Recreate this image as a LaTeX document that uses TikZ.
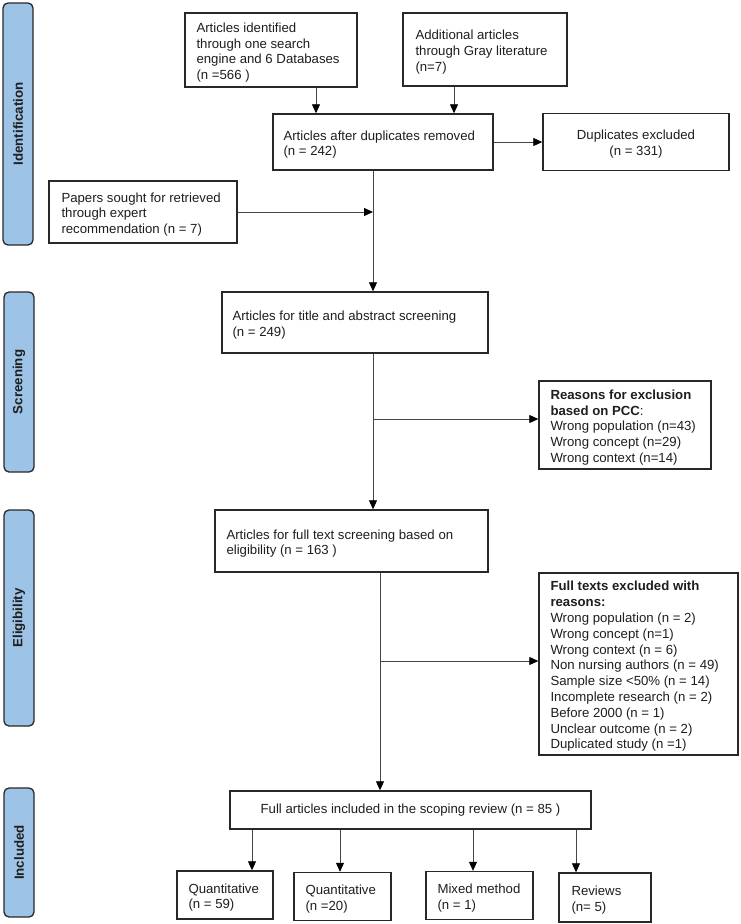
\documentclass[tikz,border=0pt]{standalone}
\usepackage{fontspec}
\setmainfont{Liberation Sans}
\usetikzlibrary{arrows.meta}
\definecolor{barblue}{RGB}{157,195,230}
\definecolor{edgec}{RGB}{40,40,40}
\definecolor{lineg}{RGB}{70,70,70}
\definecolor{txtc}{RGB}{30,30,30}
\begin{document}
\begin{tikzpicture}[x=1pt,y=-1pt,
  box/.style={draw=edgec, line width=1.4pt, fill=white, inner sep=0pt},
  txt/.style={align=left, inner sep=0pt, yshift=-2.5pt, font=\fontsize{13.2}{15.8}\selectfont, text=txtc},
  ctxt/.style={align=center, inner sep=0pt, font=\fontsize{13.2}{15.8}\selectfont, text=txtc},
  side/.style={draw=edgec, line width=1.3pt, fill=barblue, rounded corners=5pt, rotate=90,
    font=\bfseries\fontsize{13.3}{15}\selectfont, text=txtc, inner sep=0pt, minimum height=30pt},
  arr/.style={draw=lineg, line width=0.8pt, -{Triangle[length=9pt,width=8pt,fill=black,color=black]}}]

\fill[white] (0,0) rectangle (741,924);
\useasboundingbox (0,0) rectangle (741,924);

% side bars
\node[side, minimum width=242pt] (sid) at (18,124) {Identification};
\node[side, minimum width=180pt] (ssc) at (19,382) {Screening};
\node[side, minimum width=216pt] (sel) at (19,618) {Eligibility};
\node[side, minimum width=129pt] (sin) at (19,852.5) {Included};

% boxes
\node[box, minimum width=172pt, minimum height=74pt] (A) at (271,50) {};
\node[txt, anchor=west] (At) at ([xshift=12pt]A.west) {Articles identified\\through one search\\engine and 6 Databases\\(n =566 )};

\node[box, minimum width=164pt, minimum height=73pt] (add) at (485,49.5) {};
\node[txt, anchor=west] (addt) at ([xshift=13pt]add.west) {Additional articles\\through Gray literature\\(n=7)};

\node[box, minimum width=220pt, minimum height=56pt] (dup) at (383,142) {};
\node[txt, anchor=west] (dupt) at ([xshift=11pt]dup.west) {Articles after duplicates removed\\(n = 242)};

\node[box, minimum width=186pt, minimum height=57pt] (dupex) at (636,142) {};
\node[ctxt, yshift=-2pt] (dupext) at (dupex.center) {Duplicates excluded\\(n = 331)};

\node[box, minimum width=188pt, minimum height=62pt] (pap) at (143,212) {};
\node[txt, anchor=west] (papt) at ([xshift=13pt]pap.west) {Papers sought for retrieved\\through expert\\recommendation (n = 7)};

\node[box, minimum width=266pt, minimum height=61pt] (title) at (355,322.5) {};
\node[txt, anchor=west] (titlet) at ([xshift=11pt]title.west) {Articles for title and abstract screening\\(n = 249)};

\node[box, minimum width=172pt, minimum height=88pt] (rea) at (625,425) {};
\node[txt, anchor=west] (reat) at ([xshift=12pt]rea.west) {\textbf{Reasons for exclusion}\\\textbf{based on PCC}:\\Wrong population (n=43)\\Wrong concept (n=29)\\Wrong context (n=14)};

\node[box, minimum width=273pt, minimum height=62pt] (full) at (351.5,541) {};
\node[txt, anchor=west] (fullt) at ([xshift=12pt]full.west) {Articles for full text screening based on\\eligibility (n = 163 )};

\node[box, minimum width=199pt, minimum height=182pt] (fex) at (638.5,664) {};
\node[txt, anchor=west] (fext) at ([xshift=12pt]fex.west) {\textbf{Full texts excluded with}\\\textbf{reasons:}\\Wrong population (n = 2)\\Wrong concept (n=1)\\Wrong context (n = 6)\\Non nursing authors (n = 49)\\Sample size <50\% (n = 14)\\Incomplete research (n = 2)\\Before 2000 (n = 1)\\Unclear outcome (n = 2)\\Duplicated study (n =1)};

\node[box, minimum width=361pt, minimum height=38pt] (incl) at (410.5,810) {};
\node[ctxt] (inclt) at (incl.center) {Full articles included in the scoping review (n = 85 )};

\node[box, minimum width=96pt, minimum height=48pt] (q1) at (225,895) {};
\node[txt, anchor=west] (q1t) at ([xshift=12pt]q1.west) {Quantitative\\(n = 59)};
\node[box, minimum width=97pt, minimum height=48pt] (q2) at (342.5,896.5) {};
\node[txt, anchor=west] (q2t) at ([xshift=12pt]q2.west) {Quantitative\\(n =20)};
\node[box, minimum width=107pt, minimum height=48pt] (mm) at (479.5,895.5) {};
\node[txt, anchor=west] (mmt) at ([xshift=12pt]mm.west) {Mixed method\\(n = 1)};
\node[box, minimum width=92pt, minimum height=49pt] (rev) at (605,897.5) {};
\node[txt, anchor=west] (revt) at ([xshift=13pt]rev.west) {Reviews\\(n= 5)};

% connector guide coordinates
\coordinate (xa) at (316,0);
\coordinate (xb) at (454,0);
\coordinate (xt) at (373,0);
\coordinate (xu) at (380,0);
\coordinate (yb1) at (0,419);
\coordinate (yb2) at (0,661);
\coordinate (x1) at (252,0);
\coordinate (x2) at (340,0);
\coordinate (x3) at (473,0);
\coordinate (x4) at (576,0);

% connectors
\draw[arr] (A.south -| xa) -- (dup.north -| xa);
\draw[arr] (add.south -| xb) -- (dup.north -| xb);
\draw[arr] (dup.east) -- (dup.east -| dupex.west);
\draw[arr] (dup.south -| xt) -- (title.north -| xt);
\draw[arr] (pap.east) -- (pap.east -| xt);
\draw[arr] (title.south -| xt) -- (full.north -| xt);
\draw[arr] (xt |- yb1) -- (rea.west |- yb1);
\draw[arr] (full.south -| xu) -- (incl.north -| xu);
\draw[arr] (xu |- yb2) -- (fex.west |- yb2);
\draw[arr] (incl.south -| x1) -- (q1.north -| x1);
\draw[arr] (incl.south -| x2) -- (q2.north -| x2);
\draw[arr] (incl.south -| x3) -- (mm.north -| x3);
\draw[arr] (incl.south -| x4) -- (rev.north -| x4);
\end{tikzpicture}
\end{document}
